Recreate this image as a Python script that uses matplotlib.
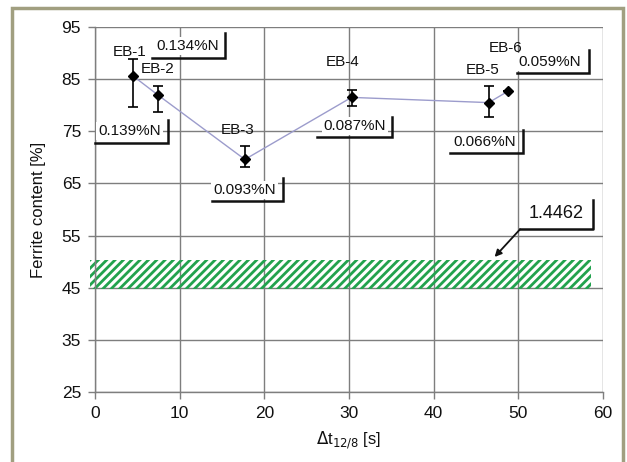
import matplotlib
matplotlib.use("Agg")
import matplotlib.pyplot as plt
from matplotlib.lines import Line2D

plt.rcParams['font.family'] = ['Liberation Sans', 'DejaVu Sans']
plt.rcParams['hatch.linewidth'] = 2.0

# Data
names = ["EB-1", "EB-2", "EB-3", "EB-4", "EB-5", "EB-6"]
dt = [4.5, 7.4, 17.7, 30.3, 46.5, 48.8]
ferrite = [85.6, 82.0, 69.6, 81.5, 80.5, 82.7]
err_low = [6.0, 3.3, 1.5, 1.7, 2.8, 0.0]
err_high = [3.2, 1.7, 2.5, 1.4, 3.2, 0.0]
nitrogen = ["0.134%N", "0.139%N", "0.093%N", "0.087%N", "0.066%N", "0.059%N"]
band_y = (44.7, 50.3)
band_x = (-0.6, 58.6)
band_label = "1.4462"
xticks = [0, 10, 20, 30, 40, 50, 60]
yticks = [25, 35, 45, 55, 65, 75, 85, 95]

# label positions (text center x, y) in data units
eb_pos = [(4.1, 90.2), (7.4, 86.9), (16.8, 75.2), (29.3, 88.3), (45.8, 86.7), (48.5, 90.9)]
n_pos = [(10.9, 91.4), (4.1, 75.0), (17.7, 63.7), (30.7, 76.0), (46.0, 73.0), (53.7, 88.3)]
# L-shaped box (x_left, x_right, y_bottom, y_top)
n_box = [(6.7, 15.3, 89.0, 93.8), (0.0, 8.6, 72.7, 77.1), (13.8, 22.2, 61.6, 66.0),
         (26.2, 35.1, 73.9, 77.7), (41.9, 50.5, 70.8, 75.2), (49.8, 58.4, 86.2, 90.6)]

fig = plt.figure(figsize=(6.27, 4.62), dpi=100, facecolor='white')
ax = fig.add_axes([95/627, 70/462, 508/627, 365/462])

ax.set_xlim(0, 60)
ax.set_ylim(25, 95)
ax.set_xticks(xticks)
ax.set_yticks(yticks)
ax.grid(True, color='#7e7e7e', linewidth=1.0)
ax.set_axisbelow(True)
for s in ['top', 'right']:
    ax.spines[s].set_visible(False)
for s in ['left', 'bottom']:
    ax.spines[s].set_color('#7e7e7e')
    ax.spines[s].set_linewidth(1.0)
ax.tick_params(axis='both', colors='#7e7e7e', labelcolor='#111111', labelsize=12.5,
               length=5, width=1, direction='out', pad=5)

# hatched band
ax.fill_between(band_x, band_y[0], band_y[1], facecolor='none', edgecolor='#22a24e',
                hatch='////', linewidth=0, clip_on=False, zorder=2)

# line
ax.plot(dt, ferrite, color='#9c9ccc', linewidth=1.0, zorder=3)
ax.errorbar(dt, ferrite, yerr=[err_low, err_high], fmt='D', color='black',
            markersize=5.5, capsize=3.5, elinewidth=1.2, capthick=1.2, zorder=4)

fs = 11
for n, (x, y) in zip(names, eb_pos):
    ax.text(x, y, n, ha='center', va='center', fontsize=fs, color='#111111', zorder=5)

for t, (x, y), (x0, x1, yb, yt) in zip(nitrogen, n_pos, n_box):
    ax.text(x, y, t, ha='center', va='center', fontsize=fs, color='#111111', zorder=6,
            bbox=dict(facecolor='white', edgecolor='none', pad=1.5))
    ax.plot([x0, x1, x1], [yb, yb, yt], color='#111111', linewidth=1.8,
            solid_joinstyle='miter', clip_on=False, zorder=6)

# 1.4462 label
ax.text(54.5, 59.3, band_label, ha='center', va='center', fontsize=13, color='#111111',
        zorder=6, bbox=dict(facecolor='white', edgecolor='none', pad=1.5))
ax.plot([50.2, 58.8, 58.8], [56.2, 56.2, 61.8], color='#111111', linewidth=1.8,
        clip_on=False, zorder=6)
ax.annotate('', xy=(47.2, 50.9), xytext=(50.2, 56.2),
            arrowprops=dict(arrowstyle='-|>', color='#111111', lw=1.3,
                            mutation_scale=10, shrinkA=0, shrinkB=0), zorder=6)

ax.set_ylabel('Ferrite content [%]', fontsize=12, color='#111111', labelpad=11)
ax.set_xlabel(r'$\Delta$t$_{12/8}$ [s]', fontsize=12, color='#111111', labelpad=6)

# outer frame: left, top and right edges (bottom edge lies outside the picture)
fx0, fx1, fy1 = 12/627, 623/627, 454/462
fig.lines.append(Line2D([fx0, fx0, fx1, fx1], [0, fy1, fy1, 0], transform=fig.transFigure,
                        color='#a19f80', linewidth=2.5, solid_joinstyle='miter'))

fig.savefig('out.png', dpi=100, facecolor='white')
